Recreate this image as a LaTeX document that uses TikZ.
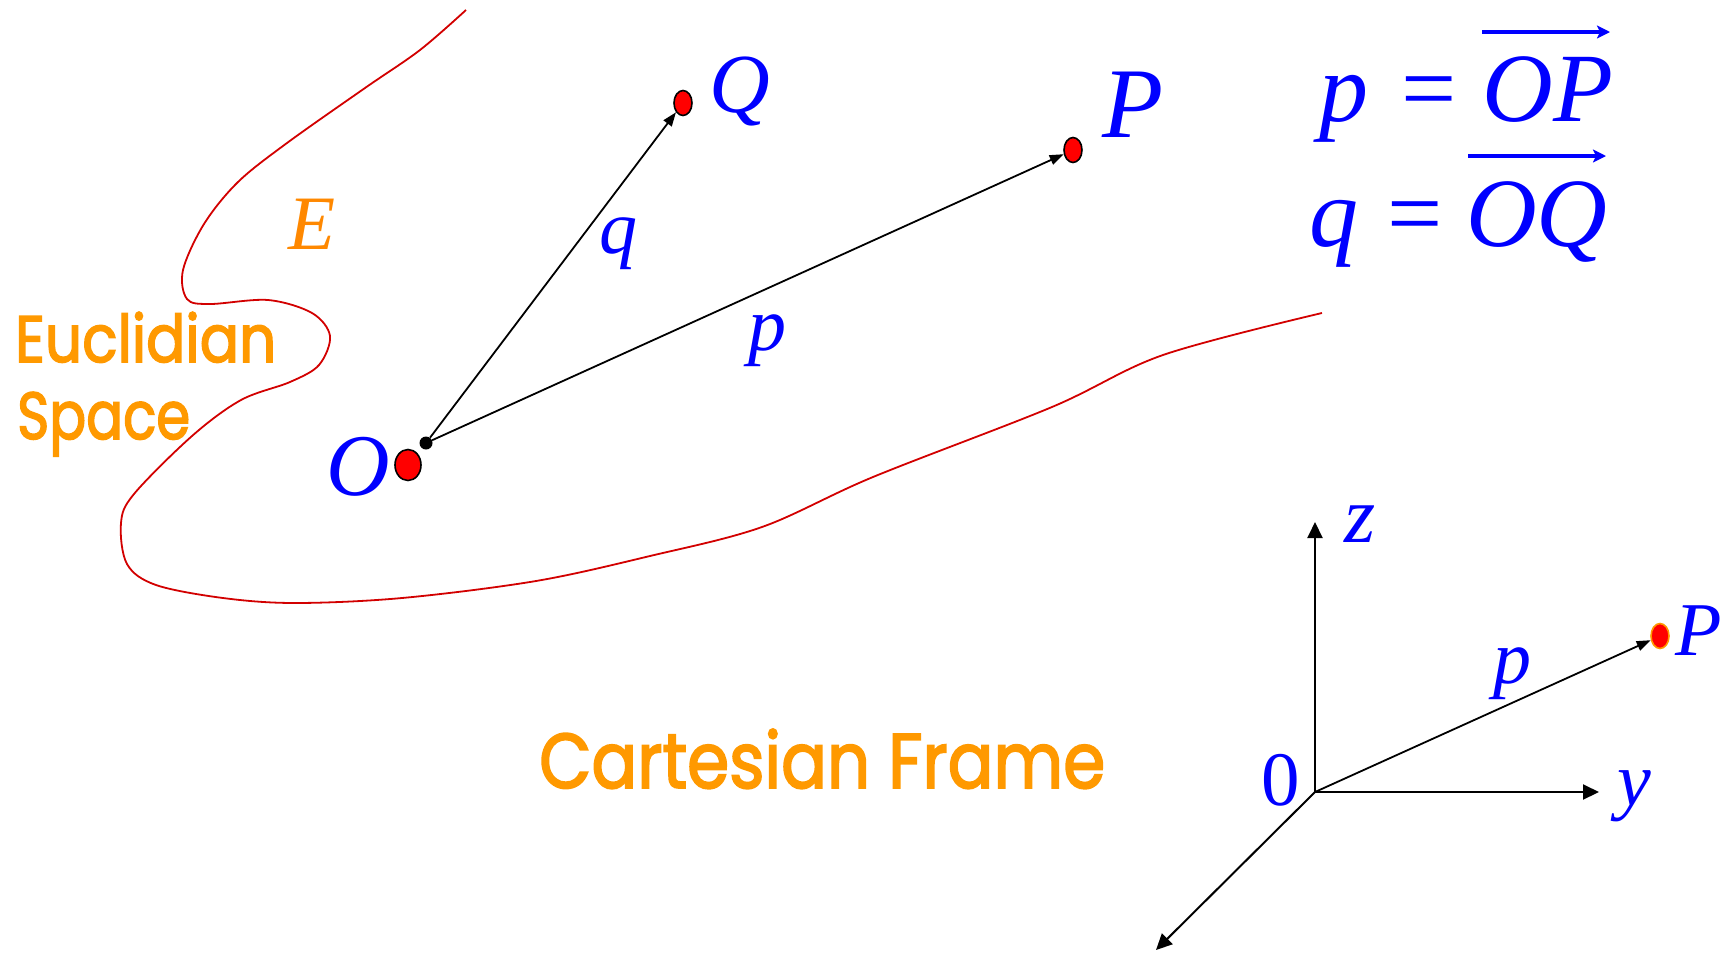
\documentclass[tikz,border=0pt]{standalone}
\usepackage{fontspec}
\usepackage{graphicx}
\setmainfont{Liberation Serif}
\newfontfamily\comicfont{Poppins}[FakeBold=2.5]
\usetikzlibrary{arrows.meta,shapes.geometric}
\definecolor{lblue}{RGB}{0,0,255}
\definecolor{lorange}{RGB}{255,153,0}
\definecolor{eorange}{RGB}{255,136,0}
\definecolor{cred}{RGB}{210,0,0}
\definecolor{dotred}{RGB}{255,0,0}
\begin{document}
\begin{tikzpicture}[x=1pt,y=-1pt,
  lbl/.style={text=lblue, inner sep=0, anchor=base, font=\itshape\fontsize{#1}{#1}\selectfont},
  rlbl/.style={text=lblue, inner sep=0, anchor=base, font=\fontsize{#1}{#1}\selectfont},
  otext/.style={text=lorange, inner sep=0, anchor=base west, font=\comicfont\fontsize{60}{60}\selectfont},
  dotnode/.style={ellipse, draw=black, line width=1.6pt, fill=dotred, inner sep=0, minimum width=18pt, minimum height=25pt},
  vec/.style={line width=1.8pt, -{Triangle[length=14pt,width=10pt]}},
  axis/.style={line width=2pt, -{Triangle[length=16pt,width=15pt]}},
  overarrow/.style={lblue, line width=4pt, -{Stealth[length=13pt,width=13pt,inset=3pt]}}
]
\useasboundingbox (0,0) rectangle (1733,954);

% Euclidean space boundary
\draw[cred, line width=1.8pt] plot[smooth, tension=0.55] coordinates {
 (466,10) (420,50) (365,88) (287,143) (238,182) (204,224) (183,270) (187,299) (210,304) (268,300)
 (312,313) (330,336) (319,365) (290,382) (241,400) (192,436) (134,494) (121,523)
 (127,564) (156,585) (223,598) (295,603) (402,598) (536,581) (650,556) (762,527)
 (873,477) (1052,407) (1163,355) (1322,313)};

% points
\node[dotnode] (Qd) at (683,103) {};
\node[dotnode] (Pd) at (1073,150) {};
\node[dotnode, minimum width=26pt, minimum height=31pt] (Od) at (408,465) {};
\node[circle, fill=black, inner sep=0, minimum size=13pt] (Oo) at (426,443) {};

\draw[vec] (Oo) -- (Qd);
\draw[vec] (Oo) -- (Pd);

% labels
\node[lbl=84] (Ql) at (740,112) {Q};
\node[lbl=100] (Pl) at (1133,137) {P};
\node[lbl=88] (Ol) at (358,495) {O};
\node[lbl=76] (ql) at (618,253) {q};
\node[lbl=76] (pl) at (767,350) {p};
\node[lbl=77, text=eorange] (El) at (312,249) {E};

% equations
\node[lbl=98] (eqp) at (1344,121) {p};
\node[rlbl=98] (eqe1) at (1429,121) {=};
\node[lbl=98] (eqOP) at (1548,121) {OP};
\draw[overarrow] (1482,32) -- (1610,32);
\node[lbl=98] (eqq) at (1334,246) {q};
\node[rlbl=98] (eqe2) at (1415,246) {=};
\node[lbl=98] (eqOQ) at (1537,246) {OQ};
\draw[overarrow] (1468,156) -- (1606,156);

% orange texts
\node[otext] (euc) at (15,362) {\resizebox{261pt}{50pt}{Euclidian}};
\node[otext] (spc) at (17,439) {\resizebox{173pt}{47pt}{Space}};
\node[otext] (cart) at (539,788) {\resizebox{566pt}{59pt}{Cartesian Frame}};

% Cartesian frame
\coordinate (C0) at (1315,792);
\coordinate (Cz) at (1315,522);
\coordinate (Cy) at (1599,792);
\coordinate (Cx) at (1156,950);
\node[dotnode, draw=lorange] (CP) at (1660,636) {};
\draw[axis] (C0) -- (Cz);
\draw[axis] (C0) -- (Cy);
\draw[axis] (C0) -- (Cx);
\draw[vec] (C0) -- (CP);
\node[lbl=80] (zl) at (1360,542) {z};
\node[lbl=76] (yl) at (1634,805) {y};
\node[rlbl=77] (zero) at (1281,805) {0};
\node[lbl=76] (cPl) at (1699,655) {P};
\node[lbl=76] (cpl) at (1512,683) {p};
\end{tikzpicture}
\end{document}
